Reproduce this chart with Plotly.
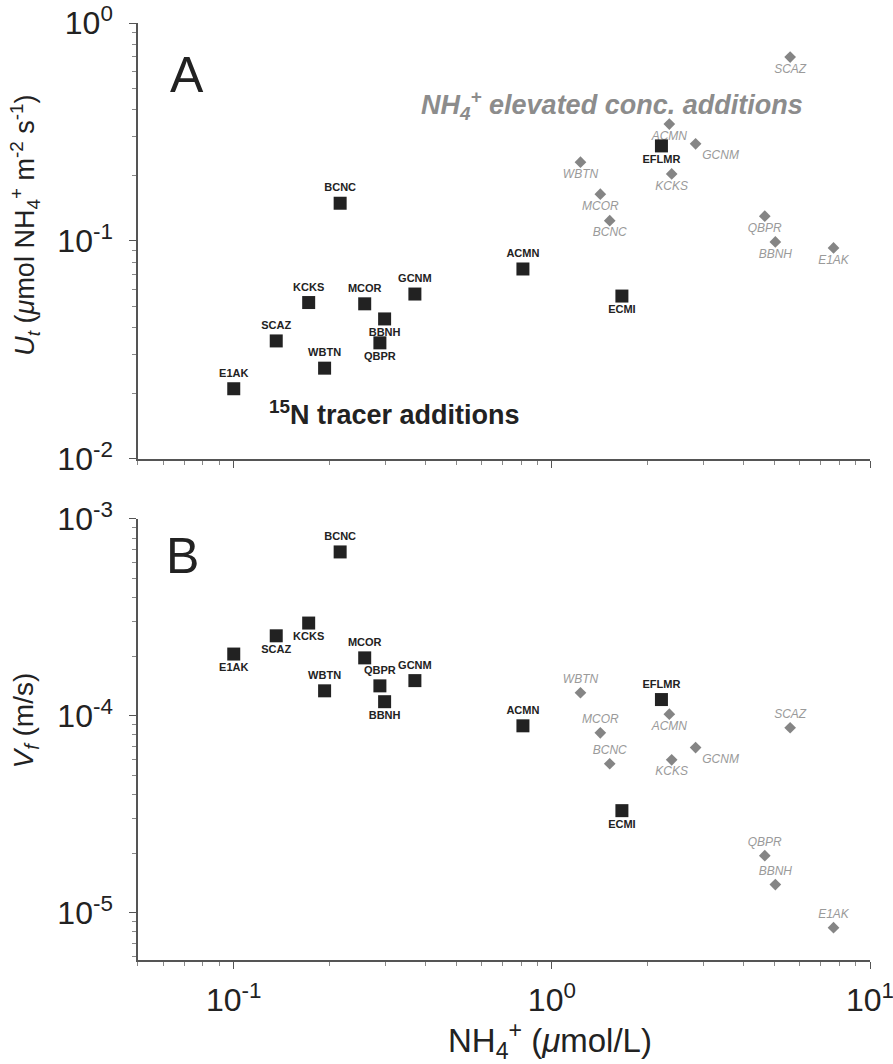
import plotly.graph_objects as go

# ---------------- data ----------------
tracer_sites = ["E1AK", "SCAZ", "KCKS", "WBTN", "BCNC", "MCOR", "BBNH", "QBPR", "GCNM", "ACMN", "ECMI", "EFLMR"]
tracer_nh4 = [0.100, 0.136, 0.172, 0.193, 0.216, 0.258, 0.298, 0.288, 0.371, 0.811, 1.66, 2.21]
tracer_ut = [0.0210, 0.0348, 0.0522, 0.0261, 0.149, 0.0515, 0.0439, 0.0341, 0.0571, 0.0744, 0.0559, 0.273]
tracer_vf = [2.06e-4, 2.55e-4, 2.96e-4, 1.34e-4, 6.8e-4, 1.97e-4, 1.18e-4, 1.42e-4, 1.51e-4, 8.9e-5, 3.3e-5, 1.21e-4]

elev_sites = ["SCAZ", "ACMN", "GCNM", "WBTN", "KCKS", "MCOR", "BCNC", "QBPR", "BBNH", "E1AK"]
elev_nh4 = [5.61, 2.34, 2.83, 1.23, 2.38, 1.42, 1.52, 4.67, 5.04, 7.68]
elev_ut = [0.698, 0.344, 0.279, 0.230, 0.203, 0.164, 0.124, 0.130, 0.0990, 0.0929]
elev_vf = [8.7e-5, 1.02e-4, 6.9e-5, 1.31e-4, 5.98e-5, 8.2e-5, 5.71e-5, 1.95e-5, 1.39e-5, 8.4e-6]

ytick_vals_a = [0.01, 0.1, 1]
ytick_text_a = ["10<sup>-2</sup>", "10<sup>-1</sup>", "10<sup>0</sup>"]
ytick_vals_b = [1e-5, 1e-4, 1e-3]
ytick_text_b = ["10<sup>-5</sup>", "10<sup>-4</sup>", "10<sup>-3</sup>"]
xtick_vals = [0.1, 1, 10]
xtick_text = ["10<sup>-1</sup>", "10<sup>0</sup>", "10<sup>1</sup>"]

# ---------------- label placement (style) ----------------
tracer_pos_a = ["top center", "top center", "top center", "top center", "top center", "top center",
                "bottom center", "bottom center", "top center", "top center", "bottom center", "bottom center"]
tracer_pos_b = ["bottom center", "bottom center", "bottom center", "top center", "top center", "top center",
                "bottom center", "top center", "top center", "top center", "bottom center", "top center"]
elev_pos_a = ["bottom center", "bottom center", "bottom right", "bottom center", "bottom center",
              "bottom center", "bottom center", "bottom center", "bottom center", "bottom center"]
elev_pos_b = ["top center", "bottom center", "bottom right", "top center", "bottom center",
              "top center", "top center", "top center", "top center", "top center"]

FONT = "Liberation Sans, Arial, sans-serif"
DARK = "#222222"
GREY = "#8c8c8c"
LINE = "#555555"

fig = go.Figure()

def add_pair(xa, ya, yvals_t, yvals_e, pos_t, pos_e):
    fig.add_trace(go.Scatter(
        x=elev_nh4, y=yvals_e, text=elev_sites, mode="markers+text",
        textposition=pos_e, xaxis=xa, yaxis=ya,
        marker=dict(symbol="diamond", size=9, color="#858585"),
        textfont=dict(family=FONT, size=12, color="#9a9a9a", style="italic"),
        showlegend=False, cliponaxis=False))
    fig.add_trace(go.Scatter(
        x=tracer_nh4, y=yvals_t, text=tracer_sites, mode="markers+text",
        textposition=pos_t, xaxis=xa, yaxis=ya,
        marker=dict(symbol="square", size=13, color=DARK),
        textfont=dict(family=FONT, size=11, color=DARK, weight="bold"),
        showlegend=False, cliponaxis=False))

add_pair("x", "y", tracer_ut, elev_ut, tracer_pos_a, elev_pos_a)
add_pair("x2", "y2", tracer_vf, elev_vf, tracer_pos_b, elev_pos_b)

axis_common = dict(
    type="log", showgrid=False, zeroline=False, showline=True, linecolor=LINE, linewidth=1.5,
    ticks="outside", ticklen=7, tickwidth=1.2, tickcolor=LINE,
    tickfont=dict(family=FONT, size=32, color=DARK), ticklabeloverflow="allow", automargin=False,
    minor=dict(ticks="outside", ticklen=4, tickwidth=1, tickcolor="#888", dtick="D1", showgrid=False),
)

fig.update_layout(
    width=893, height=1064,
    margin=dict(l=138, r=23, t=23, b=104),
    paper_bgcolor="white", plot_bgcolor="white",
    xaxis=dict(axis_common, domain=[0, 1], anchor="y", range=[-1.301, 1],
               tickmode="array", tickvals=xtick_vals, ticktext=xtick_text, showticklabels=False),
    yaxis=dict(axis_common, domain=[0.5347, 1], anchor="x", range=[-2, 0],
               tickmode="array", tickvals=ytick_vals_a, ticktext=ytick_text_a, ticklabelstandoff=10),
    xaxis2=dict(axis_common, domain=[0, 1], anchor="y2", range=[-1.301, 1],
                tickmode="array", tickvals=xtick_vals, ticktext=xtick_text, ticklabelstandoff=4),
    yaxis2=dict(axis_common, domain=[0, 0.4707], anchor="x2", range=[-5.24, -3],
                tickmode="array", tickvals=ytick_vals_b, ticktext=ytick_text_b, ticklabelstandoff=10),
)

ann = [
    dict(text="A", x=0.067, y=0.9445, font=dict(size=50, color=DARK)),
    dict(text="B", x=0.061, y=0.431, font=dict(size=50, color=DARK)),
    dict(text="NH<sub>4</sub><sup>+</sup> elevated conc. additions", x=0.6475, y=0.9125,
         font=dict(size=27, color=GREY, weight="bold", style="italic")),
    dict(text="<sup>15</sup>N tracer additions", x=0.35, y=0.5838,
         font=dict(size=27, color=DARK, weight="bold")),
    dict(text="<i>U<sub>t</sub></i> (<i>μ</i>mol NH<sub>4</sub><sup>+</sup> m<sup>-2</sup> s<sup>-1</sup>)",
         x=-0.154, y=0.784, textangle=-90, font=dict(size=27, color=DARK)),
    dict(text="<i>V<sub>f</sub></i> (m/s)", x=-0.154, y=0.256, textangle=-90,
         font=dict(size=28, color=DARK)),
    dict(text="NH<sub>4</sub><sup>+</sup> (<i>μ</i>mol/L)", x=0.563, y=-0.0854,
         font=dict(size=33, color=DARK)),
]
for a in ann:
    f = dict(family=FONT)
    f.update(a.pop("font"))
    fig.add_annotation(xref="paper", yref="paper", showarrow=False,
                       xanchor="center", yanchor="middle", font=f, **a)

fig.write_html("out.html")
